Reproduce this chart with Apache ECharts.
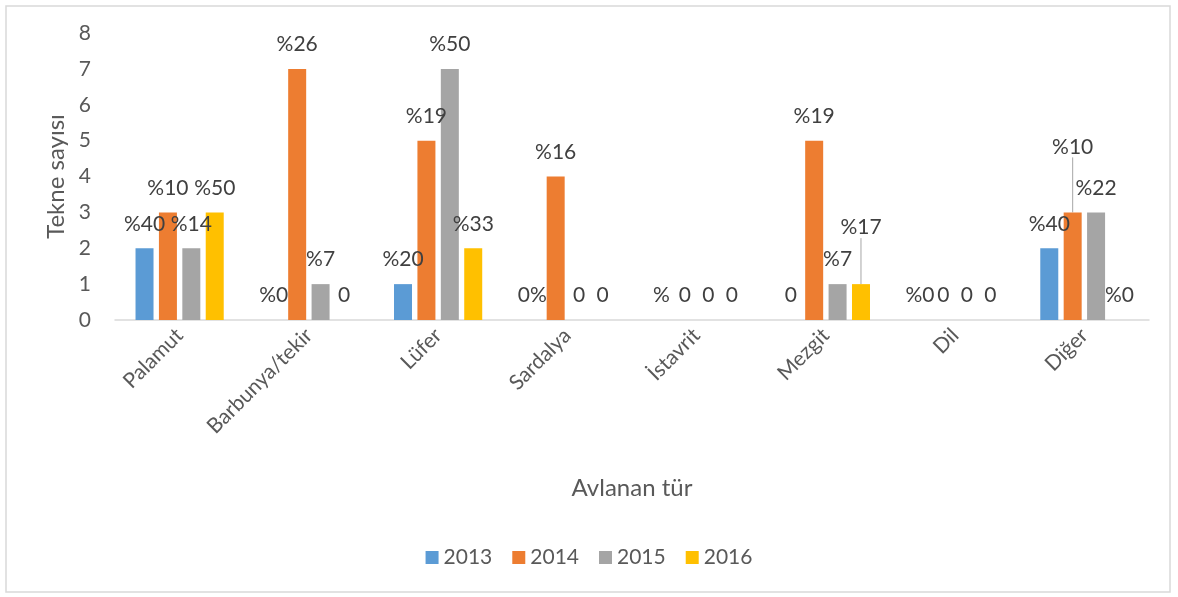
<!DOCTYPE html>
<html>
<head>
<meta charset="utf-8">
<script src="https://cdn.jsdelivr.net/npm/echarts@6/dist/echarts.min.js"></script>
<style>
  html, body { margin: 0; padding: 0; background: #fff; }
  #main { width: 1178px; height: 597px; }
</style>
</head>
<body>
<div id="main"></div>
<script>
const categories = ["Palamut", "Barbunya/tekir", "Lüfer", "Sardalya", "İstavrit", "Mezgit", "Dil", "Diğer"];
const years = ["2013", "2014", "2015", "2016"];

const values2013 = [2, 0, 1, 0, 0, 0, 0, 2];
const values2014 = [3, 7, 5, 4, 0, 5, 0, 3];
const values2015 = [2, 1, 7, 0, 0, 1, 0, 3];
const values2016 = [3, 0, 2, 0, 0, 1, 0, 0];

const labels2013 = ["%40", "%0", "%20", "0%", "%", "0", "%0", "%40"];
const labels2014 = ["%10", "%26", "%19", "%16", "0", "%19", "0", "%10"];
const labels2015 = ["%14", "%7", "%50", "0", "0", "%7", "0", "%22"];
const labels2016 = ["%50", "0", "%33", "0", "0", "%17", "0", "%0"];

const yTicks = [0, 1, 2, 3, 4, 5, 6, 7, 8];

const colors = ["#5B9BD5", "#ED7D31", "#A5A5A5", "#FFC000"];
const FONT = "Lato";

const myChart = echarts.init(document.getElementById("main"));

function makeSeries(name, values, labels, color, moved) {
  moved = moved || {};
  return {
    name: name,
    type: "bar",
    // only the dragged labels get a leader line
    data: values.map(function (v, i) {
      return moved[i] !== undefined ? { value: v, labelLine: { show: true } } : v;
    }),
    barWidth: 18,
    barGap: "30%",
    itemStyle: { color: color },
    label: {
      show: true,
      position: "top",
      distance: 14,
      color: "#404040",
      fontFamily: FONT,
      fontSize: 21,
      formatter: function (p) {
        return labels[p.dataIndex];
      },
    },
    labelLine: {
      show: false,
      lineStyle: { color: "#A6A6A6", width: 1 },
    },
    labelLayout: function (p) {
      if (moved[p.dataIndex] !== undefined) {
        return { dy: moved[p.dataIndex] };
      }
      return {};
    },
  };
}

let option = {
  animation: false,
  graphic: [
    {
      type: "rect",
      shape: { x: 6, y: 6, width: 1164, height: 586 },
      style: { fill: "none", stroke: "#D9D9D9", lineWidth: 1.5 },
      silent: true,
    },
  ],
  grid: {
    left: 115,
    right: 29,
    top: 33,
    bottom: 277,
  },
  legend: {
    bottom: 24,
    left: "center",
    itemWidth: 13,
    itemHeight: 13,
    itemGap: 20,
    icon: "rect",
    textStyle: { color: "#595959", fontFamily: FONT, fontSize: 21 },
    data: years,
  },
  xAxis: {
    type: "category",
    data: categories,
    name: "Avlanan tür",
    nameLocation: "middle",
    nameGap: 156,
    nameTextStyle: { color: "#595959", fontFamily: FONT, fontSize: 24 },
    axisLine: { lineStyle: { color: "#D9D9D9", width: 1.5 } },
    axisTick: { show: false },
    axisLabel: {
      rotate: 45,
      margin: 12,
      interval: 0,
      color: "#595959",
      fontFamily: FONT,
      fontSize: 21,
    },
  },
  yAxis: {
    type: "value",
    min: yTicks[0],
    max: yTicks[yTicks.length - 1],
    interval: 1,
    name: "Tekne sayısı",
    nameLocation: "middle",
    nameGap: 45,
    nameTextStyle: { color: "#595959", fontFamily: FONT, fontSize: 24 },
    axisLine: { show: false },
    axisTick: { show: false },
    splitLine: { show: false },
    axisLabel: {
      margin: 24,
      color: "#595959",
      fontFamily: FONT,
      fontSize: 21,
    },
  },
  series: [
    makeSeries(years[0], values2013, labels2013, colors[0]),
    makeSeries(years[1], values2014, labels2014, colors[1], { 7: -41 }),
    makeSeries(years[2], values2015, labels2015, colors[2]),
    makeSeries(years[3], values2016, labels2016, colors[3], { 5: -32 }),
  ],
};

option && myChart.setOption(option);

window.addEventListener("resize", function () {
  myChart.resize();
});
</script>
</body>
</html>
